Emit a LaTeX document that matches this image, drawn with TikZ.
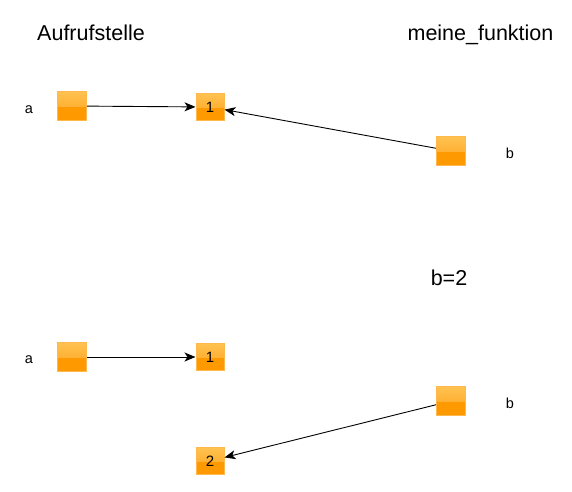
\documentclass[tikz,border=0pt]{standalone}
\usepackage{fontspec}
\setmainfont{Liberation Sans}
\usetikzlibrary{arrows.meta,positioning}
\definecolor{boxtop}{HTML}{FFC250}
\definecolor{boxmid}{HTML}{FFA11A}
\definecolor{boxbot}{HTML}{FF9900}
\definecolor{boxline}{HTML}{FFB84D}

\begin{document}
\begin{tikzpicture}[x=1pt,y=-1pt]
		\tikzstyle{varbox} = [draw=boxline, line width=1pt, fill=boxbot, inner sep=0pt,
		minimum width=29pt, minimum height=29pt,
		path picture={\shade[top color=boxtop, bottom color=boxmid]
			(path picture bounding box.north west) rectangle (path picture bounding box.east);}];
		\tikzstyle{valbox} = [varbox, minimum width=28pt, minimum height=27pt,
		font=\fontsize{15pt}{18pt}\selectfont];
		\tikzstyle{lbl} = [anchor=base, inner sep=0pt, font=\fontsize{14.5pt}{17pt}\selectfont];
		\tikzstyle{head} = [anchor=base, inner sep=0pt, font=\fontsize{21.5pt}{25pt}\selectfont];
		\tikzstyle{ref} = [line width=0.9pt, -{Stealth[length=11pt,width=9pt,inset=3pt]}];
		\useasboundingbox (0,0) rectangle (572,491);
		% headings
		\node[head](caller) at (91,40) {Aufrufstelle};
		\node[head](callee) at (480.5,40) {meine\_funktion};
		% before the assignment
		\node[lbl](namea) at (29,113) {a};
		\node[varbox](vara) at (72,106) {};
		\node[valbox](one) at (210,107) {1};
		\node[varbox](varb) at (451,151) {};
		\node[lbl](nameb) at (510,158) {b};
		\draw[ref] (vara) to (one);
		\draw[ref] (varb) to (one);
		% the assignment
		\node[head](assign) at (449,285) {b=2};
		% after the assignment
		\node[lbl](namea2) at (29,363) {a};
		\node[varbox](vara2) at (72,357) {};
		\node[valbox](one2) at (210,357) {1};
		\node[varbox](varb2) at (451,401) {};
		\node[lbl](nameb2) at (510,408) {b};
		\node[valbox](two) at (210,461) {2};
		\draw[ref] (vara2) to (one2);
		\draw[ref] (varb2) to (two);
	\end{tikzpicture}
\end{document}
